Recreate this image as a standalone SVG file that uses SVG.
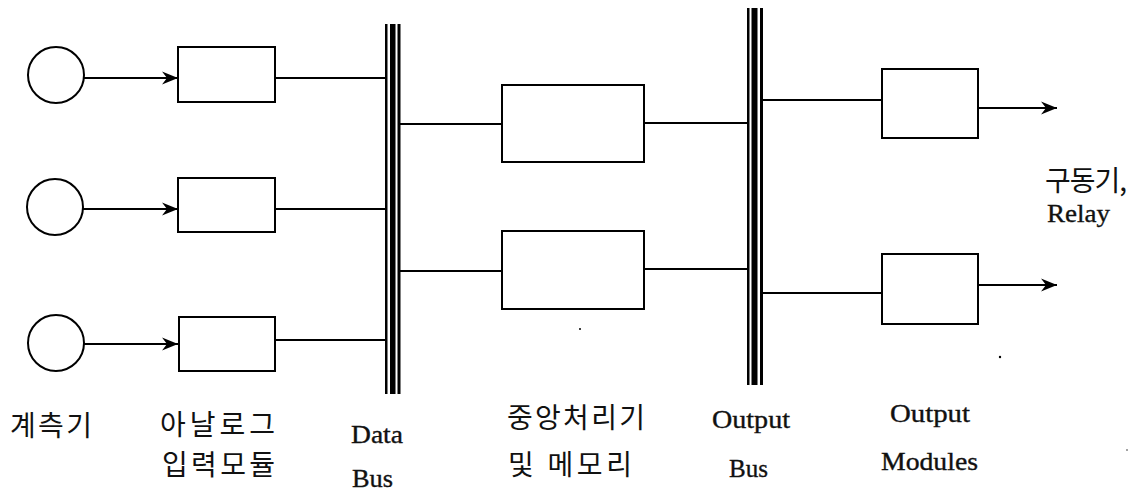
<svg xmlns="http://www.w3.org/2000/svg" width="1147" height="491" viewBox="0 0 1147 491">
  <style>
    .shape { fill: #fff; stroke: #000; stroke-width: 2; }
    .wire { fill: none; stroke: #000; stroke-width: 2; }
    .bar { fill: #000; }
    .ko { font-family: "Noto Sans CJK KR", sans-serif; font-size: 28px; fill: #111; }
    .en { font-family: "Liberation Serif", "DejaVu Serif", serif; font-size: 25px; fill: #111; stroke: #111; stroke-width: 0.35; }
  </style>
  <defs>
    <marker id="arrow" markerUnits="userSpaceOnUse" markerWidth="18" markerHeight="14" refX="16" refY="7" orient="auto">
      <path d="M16,7 L0,0.5 L5,7 L0,13.5 Z" fill="#000"/>
    </marker>
  </defs>
  <rect width="1147" height="491" fill="#fff"/>

  <!-- connectors -->
  <g id="connectors">
    <!-- sensor to input module -->
    <line class="wire" x1="84" y1="78" x2="178" y2="78" marker-end="url(#arrow)"/>
    <line class="wire" x1="83" y1="209" x2="178" y2="209" marker-end="url(#arrow)"/>
    <line class="wire" x1="84" y1="344" x2="178" y2="344" marker-end="url(#arrow)"/>
    <!-- input modules to data bus -->
    <line class="wire" x1="275" y1="78" x2="385" y2="78"/>
    <line class="wire" x1="275" y1="209" x2="385" y2="209"/>
    <line class="wire" x1="275" y1="340" x2="385" y2="340"/>
    <!-- data bus to CPU -->
    <line class="wire" x1="400" y1="124" x2="502" y2="124"/>
    <line class="wire" x1="400" y1="271" x2="502" y2="271"/>
    <!-- CPU to output bus -->
    <line class="wire" x1="644" y1="123" x2="747" y2="123"/>
    <line class="wire" x1="644" y1="269" x2="747" y2="269"/>
    <!-- output bus to output modules -->
    <line class="wire" x1="763" y1="100" x2="882" y2="100"/>
    <line class="wire" x1="763" y1="293" x2="882" y2="293"/>
    <!-- output module outputs -->
    <line class="wire" x1="978" y1="108" x2="1057" y2="108" marker-end="url(#arrow)"/>
    <line class="wire" x1="978" y1="285" x2="1057" y2="285" marker-end="url(#arrow)"/>
  </g>

  <!-- sensors -->
  <g id="sensor-1"><circle class="shape" cx="56" cy="75" r="28"/></g>
  <g id="sensor-2"><circle class="shape" cx="55" cy="207" r="28"/></g>
  <g id="sensor-3"><circle class="shape" cx="56" cy="343" r="28"/></g>

  <!-- analog input modules -->
  <g id="input-1"><rect class="shape" x="178" y="47" width="97" height="55"/></g>
  <g id="input-2"><rect class="shape" x="178" y="178" width="97" height="54"/></g>
  <g id="input-3"><rect class="shape" x="179" y="317" width="96" height="54"/></g>

  <!-- data bus -->
  <g id="data-bus">
    <rect class="bar" x="385" y="24" width="2.5" height="370"/>
    <rect class="bar" x="390" y="24" width="5.5" height="370"/>
    <rect class="bar" x="397.5" y="24" width="3" height="370"/>
  </g>

  <!-- CPU and memory -->
  <g id="cpu-1"><rect class="shape" x="502" y="85" width="142" height="77"/></g>
  <g id="cpu-2"><rect class="shape" x="502" y="231" width="142" height="78"/></g>

  <!-- output bus -->
  <g id="output-bus">
    <rect class="bar" x="747" y="8" width="2.5" height="377"/>
    <rect class="bar" x="751.5" y="8" width="6" height="377"/>
    <rect class="bar" x="760" y="8" width="3" height="377"/>
  </g>

  <!-- output modules -->
  <g id="output-1"><rect class="shape" x="882" y="69" width="96" height="69"/></g>
  <g id="output-2"><rect class="shape" x="882" y="254" width="96" height="70"/></g>

  <!-- labels -->
  <g id="labels">
    <text class="ko" x="10" y="436" textLength="82" lengthAdjust="spacing">계측기</text>
    <text class="ko" x="160" y="435" textLength="115" lengthAdjust="spacing">아날로그</text>
    <text class="ko" x="162" y="475" textLength="113" lengthAdjust="spacing">입력모듈</text>
    <text class="en" x="351" y="443" textLength="52" lengthAdjust="spacingAndGlyphs">Data</text>
    <text class="en" x="352" y="487" textLength="41" lengthAdjust="spacingAndGlyphs">Bus</text>
    <text class="ko" x="507" y="428" textLength="138" lengthAdjust="spacing">중앙처리기</text>
    <text class="ko" x="508" y="475" textLength="124" lengthAdjust="spacing">및 메모리</text>
    <text class="en" x="712" y="428" textLength="78" lengthAdjust="spacingAndGlyphs">Output</text>
    <text class="en" x="729" y="477" textLength="39" lengthAdjust="spacingAndGlyphs">Bus</text>
    <text class="en" x="890" y="422" textLength="80" lengthAdjust="spacingAndGlyphs">Output</text>
    <text class="en" x="881" y="470" textLength="97" lengthAdjust="spacingAndGlyphs">Modules</text>
    <text class="ko" x="1045" y="191" textLength="82" lengthAdjust="spacing">구동기,</text>
    <text class="en" x="1047" y="222" textLength="63" lengthAdjust="spacingAndGlyphs">Relay</text>
  </g>

  <!-- small specks -->
  <g id="specks" fill="#000">
    <circle cx="580" cy="329" r="1"/>
    <circle cx="1000" cy="357" r="1.2"/>
    <circle cx="1127" cy="450" r="0.7"/>
  </g>
</svg>
